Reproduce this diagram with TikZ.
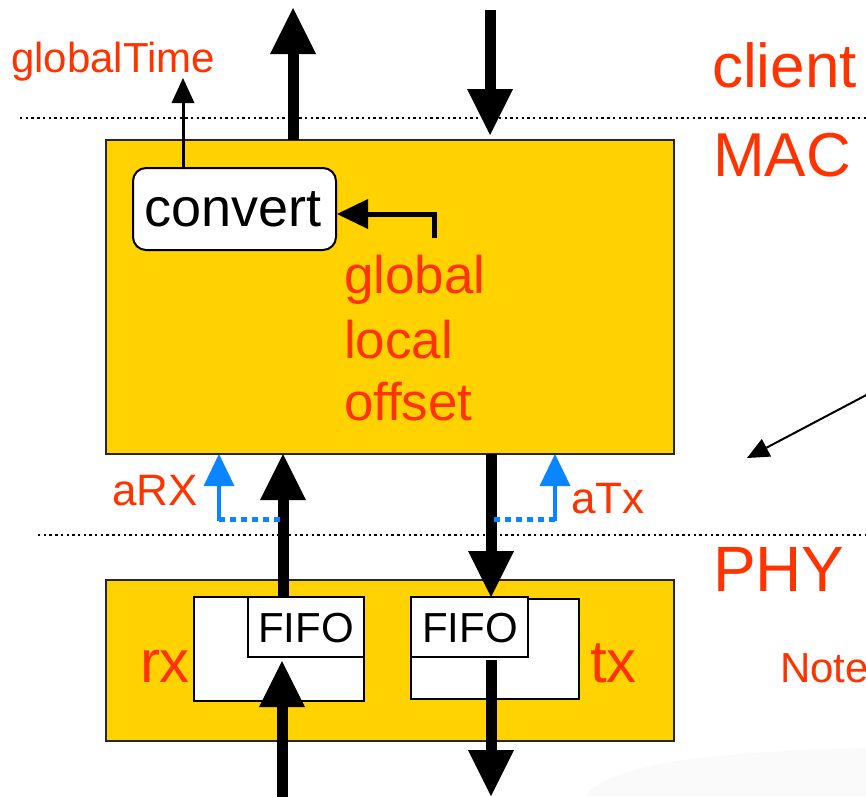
\documentclass[tikz,border=0pt]{standalone}
\usepackage{fontspec}
\setmainfont{Liberation Sans}
\usetikzlibrary{arrows.meta}
\definecolor{macyellow}{RGB}{255,210,0}
\definecolor{labelred}{RGB}{255,51,0}
\definecolor{sigblue}{RGB}{10,132,255}
\newcommand{\fs}[1]{\fontsize{#1}{#1}\selectfont}

\begin{document}
\begin{tikzpicture}[x=1pt,y=-1pt,
  layerbox/.style={draw=black!85, line width=2pt, fill=macyellow, anchor=north west,
    inner sep=0pt, outer sep=0pt},
  whitebox/.style={draw=black, line width=1.8pt, fill=white, anchor=north west,
    inner sep=0pt, outer sep=0pt},
  fifobox/.style={whitebox},
  lbl/.style={text=labelred, inner sep=0pt, outer sep=0pt},
  layerline/.style={line width=2.4pt, dash pattern=on 2.4pt off 3.3pt, black},
  bigarrow/.style={line width=11pt, -{Triangle[width=46pt,length=46pt,line width=0pt]}},
  thinarrow/.style={line width=3pt, -{Triangle[width=23pt,length=25pt,line width=0pt]}},
  midarrow/.style={line width=5pt, -{Triangle[width=30pt,length=31pt,line width=0pt]}},
  bluearrow/.style={sigblue, line width=4pt, -{Triangle[width=31pt,length=32pt,line width=0pt]}},
  bluedots/.style={sigblue, line width=5pt, dash pattern=on 6pt off 5pt},
  notearrow/.style={line width=2pt, -{Triangle[width=20pt,length=22pt,line width=0pt]}}
]
\useasboundingbox (0,0) rectangle (866,796);

% faint slide shading, lower right
\fill[black!2] (585,796) .. controls (610,765) and (700,752) .. (866,748) -- (866,796) -- cycle;

% layer separators
\coordinate (sepA1) at (20,118);  \coordinate (sepA2) at (866,118);
\coordinate (sepB1) at (38,535);  \coordinate (sepB2) at (866,535);
\draw[layerline] (sepA1) -- (sepA2);
\draw[layerline] (sepB1) -- (sepB2);

% layer names
\node[lbl, anchor=base west, font=\fs{62}] (client) at (712,87) {client};
\node[lbl, anchor=base west, font=\fs{62}] (maclbl) at (713,176) {MAC};
\node[lbl, anchor=base west, font=\fs{64}] (phylbl) at (713,591) {PHY};
\node[lbl, anchor=base west, font=\fs{42}] (note) at (780,682) {Note};

% MAC block
\node[layerbox, minimum width=568pt, minimum height=314pt] (mac) at (106,140) {};
\node[draw=black, line width=2pt, fill=white, rounded corners=13pt, anchor=north west,
      minimum width=203pt, minimum height=82pt, inner sep=0pt]
      (convert) at (132,167) {};
\node[inner sep=0pt, anchor=base, font=\fs{54}] (convtxt) at (233,226) {convert};
\node[lbl, anchor=base west, font=\fs{53}] (glob) at (344,293) {global};
\node[lbl, anchor=base west, font=\fs{53}] (loc)  at (344,358) {local};
\node[lbl, anchor=base west, font=\fs{53}] (off)  at (344,420) {offset};

% PHY block
\node[layerbox, minimum width=568pt, minimum height=161pt] (phy) at (106,580) {};
\node[whitebox, minimum width=170pt, minimum height=104pt] (rxbuf) at (194,597) {};
\node[whitebox, minimum width=168pt, minimum height=100pt] (txbuf) at (411,599) {};
\node[fifobox, minimum width=116pt, minimum height=60pt] (rxfifo) at (248,597) {};
\node[fifobox, minimum width=117pt, minimum height=60pt] (txfifo) at (411,597) {};
\node[inner sep=0pt, anchor=base, font=\fs{42}] (rxfifotxt) at (306,642) {FIFO};
\node[inner sep=0pt, anchor=base, font=\fs{42}] (txfifotxt) at (470,642) {FIFO};
\node[lbl, anchor=base west, font=\fs{60}] (rx) at (140,682) {rx};
\node[lbl, anchor=base west, font=\fs{60}] (tx) at (590,682) {tx};

% client <-> MAC
\coordinate (upTop) at (293,8);
\coordinate (dnTop) at (490,10);
\coordinate (dnTip) at (490,135);
\draw[bigarrow] (mac.north -| upTop) -- (upTop);
\draw[bigarrow] (dnTop) -- (dnTip);

% global time out of convert
\node[lbl, anchor=base west, font=\fs{42}] (gtime) at (11,72) {globalTime};
\coordinate (gtTip) at (183,78);
\draw[thinarrow] (convert.north -| gtTip) -- (gtTip);

% registers feed convert
\coordinate (regSrc) at (434,238);
\draw[midarrow] (regSrc) |- ([yshift=-5pt]convert.east);

% MAC <-> PHY data paths
\draw[bigarrow] (rxfifo.north -| 283,0) -- (mac.south -| 283,0);
\draw[bigarrow] (mac.south -| 491,0) -- (txfifo.north -| 491,0);

% PHY <-> medium
\coordinate (rxIn) at (282,800);
\coordinate (rxTip) at (282,661);
\coordinate (txOut) at (491,660);
\coordinate (txTip) at (491,796);
\draw[bigarrow] (rxIn) -- (rxTip);
\draw[bigarrow] (txOut) -- (txTip);

% timestamp indications
\coordinate (rxTap) at (280,519);
\coordinate (rxCorner) at (219,519);
\coordinate (txTap) at (494,519);
\coordinate (txCorner) at (555,519);
\draw[bluedots] (rxTap) -- (rxCorner);
\draw[bluedots] (txTap) -- (txCorner);
\draw[bluearrow] ([yshift=-2pt]rxCorner) -- (mac.south -| rxCorner);
\draw[bluearrow] ([yshift=-2pt]txCorner) -- (mac.south -| txCorner);
\node[lbl, anchor=base east, font=\fs{44}] (arx) at (198,505) {aRX};
\node[lbl, anchor=base west, font=\fs{44}] (atx) at (571,513) {aTx};

% pointer from the note
\coordinate (noteFrom) at (872,392);
\coordinate (noteTip) at (747,458);
\draw[notearrow] (noteFrom) -- (noteTip);
\end{tikzpicture}
\end{document}
